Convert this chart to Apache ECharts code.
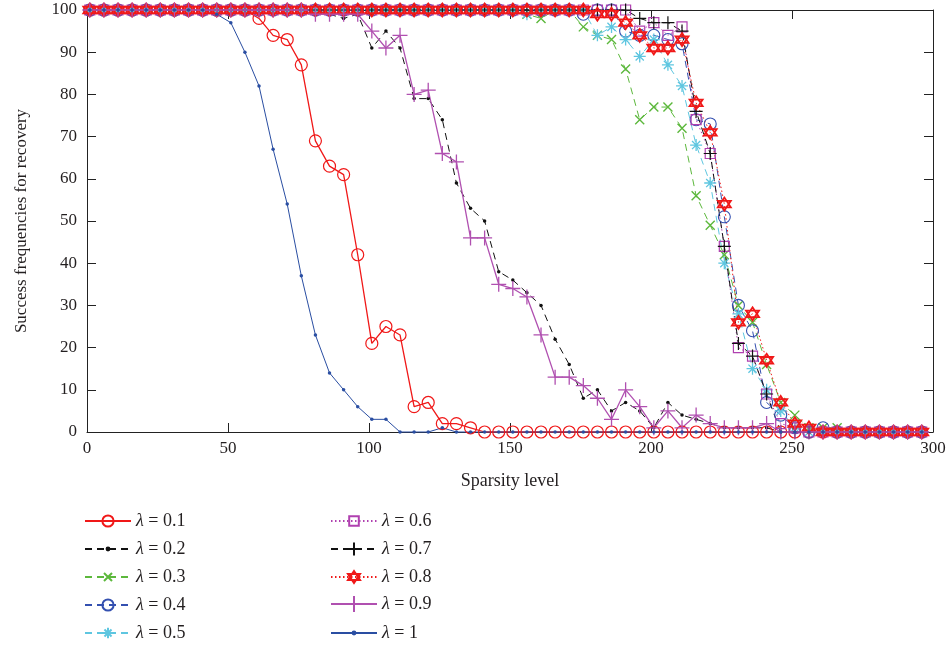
<!DOCTYPE html>
<html><head><meta charset="utf-8">
<script src="https://cdn.jsdelivr.net/npm/echarts@6/dist/echarts.min.js"></script>
<style>html,body{margin:0;padding:0;background:#fff}#c{width:949px;height:648px}</style>
</head><body><div id="c"></div>
<script>
// x positions (sparsity level)
const xs = [];
const xStart = 1, xStep = 5, nPts = 60;
for (let i = 0; i < nPts; i++) xs.push(xStart + xStep * i);

const xTicks = [0, 50, 100, 150, 200, 250, 300];
const yTicks = [0, 10, 20, 30, 40, 50, 60, 70, 80, 90, 100];

const names = ['λ = 0.1','λ = 0.2','λ = 0.3','λ = 0.4','λ = 0.5','λ = 0.6','λ = 0.7','λ = 0.8','λ = 0.9','λ = 1'];

const lam01 = [100,100,100,100,100,100,100,100,100,100, 100,100,98,94,93,87,69,63,61,42, 21,25,23,6,7,2,2,1,0,0, 0,0,0,0,0,0,0,0,0,0, 0,0,0,0,0,0,0,0,0,0, 0,0,0,0,0,0,0,0,0,0];
const lam02 = [100,100,100,100,100,100,100,100,100,100, 100,100,100,100,100,100,100,99,98,99, 91,95,91,79,79,74,59,53,50,38, 36,33,30,22,16,8,10,5,7,5, 1,7,4,3,2,1,1,1,1,0, 0,0,0,0,0,0,0,0,0,0];
const lam03 = [100,100,100,100,100,100,100,100,100,100, 100,100,100,100,100,100,100,100,100,100, 100,100,100,100,100,100,100,100,100,100, 100,99,98,100,100,96,94,93,86,74, 77,77,72,56,49,42,30,26,16,7, 4,1,1,1,0,0,0,0,0,0];
const lam04 = [100,100,100,100,100,100,100,100,100,100, 100,100,100,100,100,100,100,100,100,100, 100,100,100,100,100,100,100,100,100,100, 100,100,100,100,100,99,100,100,95,94, 94,93,92,74,73,51,30,24,7,4, 1,0,1,0,0,0,0,0,0,0];
const lam05 = [100,100,100,100,100,100,100,100,100,100, 100,100,100,100,100,100,100,100,100,100, 100,100,100,100,100,100,100,100,100,100, 100,99,100,100,100,100,94,96,93,89, 93,87,82,68,59,40,28,15,10,5, 1,0,0,0,0,0,0,0,0,0];
const lam06 = [100,100,100,100,100,100,100,100,100,100, 100,100,100,100,100,100,100,100,100,100, 100,100,100,100,100,100,100,100,100,100, 100,100,100,100,100,100,100,100,100,95, 97,94,96,74,66,44,20,18,9,2, 1,0,0,0,0,0,0,0,0,0];
const lam07 = [100,100,100,100,100,100,100,100,100,100, 100,100,100,100,100,100,100,100,100,100, 100,100,100,100,100,100,100,100,100,100, 100,100,100,100,100,100,100,100,100,98, 97,97,95,76,66,44,21,18,9,0, 0,0,0,0,0,0,0,0,0,0];
const lam08 = [100,100,100,100,100,100,100,100,100,100, 100,100,100,100,100,100,100,100,100,100, 100,100,100,100,100,100,100,100,100,100, 100,100,100,100,100,100,99,99,97,94, 91,91,93,78,71,54,26,28,17,7, 2,1,0,0,0,0,0,0,0,0];
const lam09 = [100,100,100,100,100,100,100,100,100,100, 100,100,100,100,100,100,99,99,99,99, 95,91,94,80,81,66,64,46,46,35, 34,32,23,13,13,11,8,3,10,6, 1,5,1,4,2,1,1,1,2,0, 0,0,0,0,0,0,0,0,0,0];
const lam10 = [100,100,100,100,100,100,100,100,100,99, 97,90,82,67,54,37,23,14,10,6, 3,3,0,0,0,1,0,0,0,0, 0,0,0,0,0,0,0,0,0,0, 0,0,0,0,0,0,0,0,0,0, 0,0,0,0,0,0,0,0,0,0];

const allData = [lam01, lam02, lam03, lam04, lam05, lam06, lam07, lam08, lam09, lam10];

const P_X = 'path://M0,0L10,10M10,0L0,10';
const P_AST = 'path://M5,0L5,10M0,5L10,5M1.6,1.6L8.4,8.4M8.4,1.6L1.6,8.4';
const P_PLUS = 'path://M5,0L5,10M0,5L10,5';
const P_HEX = 'path://M5,0L9.33,7.5L0.67,7.5Z M5,10L0.67,2.5L9.33,2.5Z';

// style per series; lh = legend icon height (symbol in legend = 0.8*lh)
const styles = [
  {c:'#f01818', lt:'solid', lw:1.3, sym:'circle', ss:12, bw:1.2, fill:'transparent', lh:14},
  {c:'#111111', lt:[7,5], lw:1, sym:'circle', ss:3.5, bw:0, fill:'#111111', lh:6},
  {c:'#5cb83c', lt:[7,5], lw:1, sym:P_X, ss:9, bw:1.4, fill:'transparent', lh:10},
  {c:'#3450b0', lt:[7,5], lw:1, sym:'circle', ss:12, bw:1.1, fill:'transparent', lh:14},
  {c:'#5ec6e0', lt:[7,5], lw:1, sym:P_AST, ss:12, bw:1.3, fill:'transparent', lh:13},
  {c:'#b040b0', lt:[1.5,2.5], lw:1, sym:'rect', ss:10, bw:1.2, fill:'transparent', lh:12},
  {c:'#111111', lt:[7,5], lw:1, sym:P_PLUS, ss:13, bw:1.2, fill:'transparent', lh:16},
  {c:'#f01818', lt:[1.5,2.5], lw:1, sym:P_HEX, ss:13, bw:1.8, fill:'transparent', lh:15},
  {c:'#b050b0', lt:'solid', lw:1.3, sym:P_PLUS, ss:15, bw:1.3, fill:'transparent', lh:20},
  {c:'#2a4ea2', lt:'solid', lw:1, sym:'circle', ss:3.5, bw:0, fill:'#2a4ea2', lh:6}
];

const series = allData.map((d, k) => {
  const s = styles[k];
  return {
    name: names[k], type: 'line', xAxisIndex: 0, yAxisIndex: 0,
    data: d.map((v, i) => [xs[i], v]),
    symbol: s.sym, symbolSize: s.ss, showAllSymbol: true, clip: false,
    lineStyle: {color: s.c, width: s.lw, type: s.lt},
    itemStyle: {color: s.fill, borderColor: s.c, borderWidth: s.bw},
    emphasis: {disabled: true}, animation: false
  };
});

const FONT = 'Liberation Serif';
const txt = {fontFamily: FONT, fontSize: 17, color: '#231f20'};

const rowCenters = [521, 549, 577, 605, 633];
const colLeft = [84, 330];
const legends = names.map((n, k) => {
  const s = styles[k];
  const col = Math.floor(k / 5), row = k % 5;
  return {
    orient: 'vertical', itemWidth: 46, itemHeight: s.lh, padding: 0,
    left: colLeft[col], top: rowCenters[row] - Math.max(s.lh, 18) / 2,
    textStyle: Object.assign({}, txt, {fontSize: 18, rich: {i: {fontFamily: FONT, fontStyle: 'italic', fontSize: 18, color: '#231f20'}}}),
    formatter: nm => '{i|λ}' + nm.slice(1),
    selectedMode: false, data: [n]
  };
});

const chart = echarts.init(document.getElementById('c'), null, {renderer: 'canvas'});
chart.setOption({
  animation: false,
  backgroundColor: '#fff',
  grid: {left: 87, right: 16, top: 10, bottom: 216, containLabel: false},
  xAxis: [
    {type: 'value', min: xTicks[0], max: xTicks[xTicks.length-1], interval: 50, position: 'bottom',
     name: 'Sparsity level', nameLocation: 'middle', nameGap: 40, nameTextStyle: Object.assign({}, txt, {fontSize: 18}),
     axisLine: {show: true, onZero: false, lineStyle: {color: '#222', width: 1}},
     axisTick: {inside: true, length: 9, lineStyle: {color: '#222'}},
     axisLabel: Object.assign({}, txt, {margin: 8}), splitLine: {show: false}},
    {type: 'value', min: xTicks[0], max: xTicks[xTicks.length-1], interval: 50, position: 'top',
     axisLine: {show: true, onZero: false, lineStyle: {color: '#222', width: 1}},
     axisTick: {inside: true, length: 9, lineStyle: {color: '#222'}},
     axisLabel: {show: false}, splitLine: {show: false}}
  ],
  yAxis: [
    {type: 'value', min: yTicks[0], max: yTicks[yTicks.length-1], interval: 10, position: 'left',
     name: 'Success frequencies for recovery', nameLocation: 'middle', nameGap: 57, nameRotate: 90,
     nameTextStyle: Object.assign({}, txt, {fontSize: 17}),
     axisLine: {show: true, onZero: false, lineStyle: {color: '#222', width: 1}},
     axisTick: {inside: true, length: 9, lineStyle: {color: '#222'}},
     axisLabel: Object.assign({}, txt, {margin: 10}), splitLine: {show: false}},
    {type: 'value', min: yTicks[0], max: yTicks[yTicks.length-1], interval: 10, position: 'right',
     axisLine: {show: true, onZero: false, lineStyle: {color: '#222', width: 1}},
     axisTick: {inside: true, length: 9, lineStyle: {color: '#222'}},
     axisLabel: {show: false}, splitLine: {show: false}}
  ],
  legend: legends,
  series: series
});
</script></body></html>
